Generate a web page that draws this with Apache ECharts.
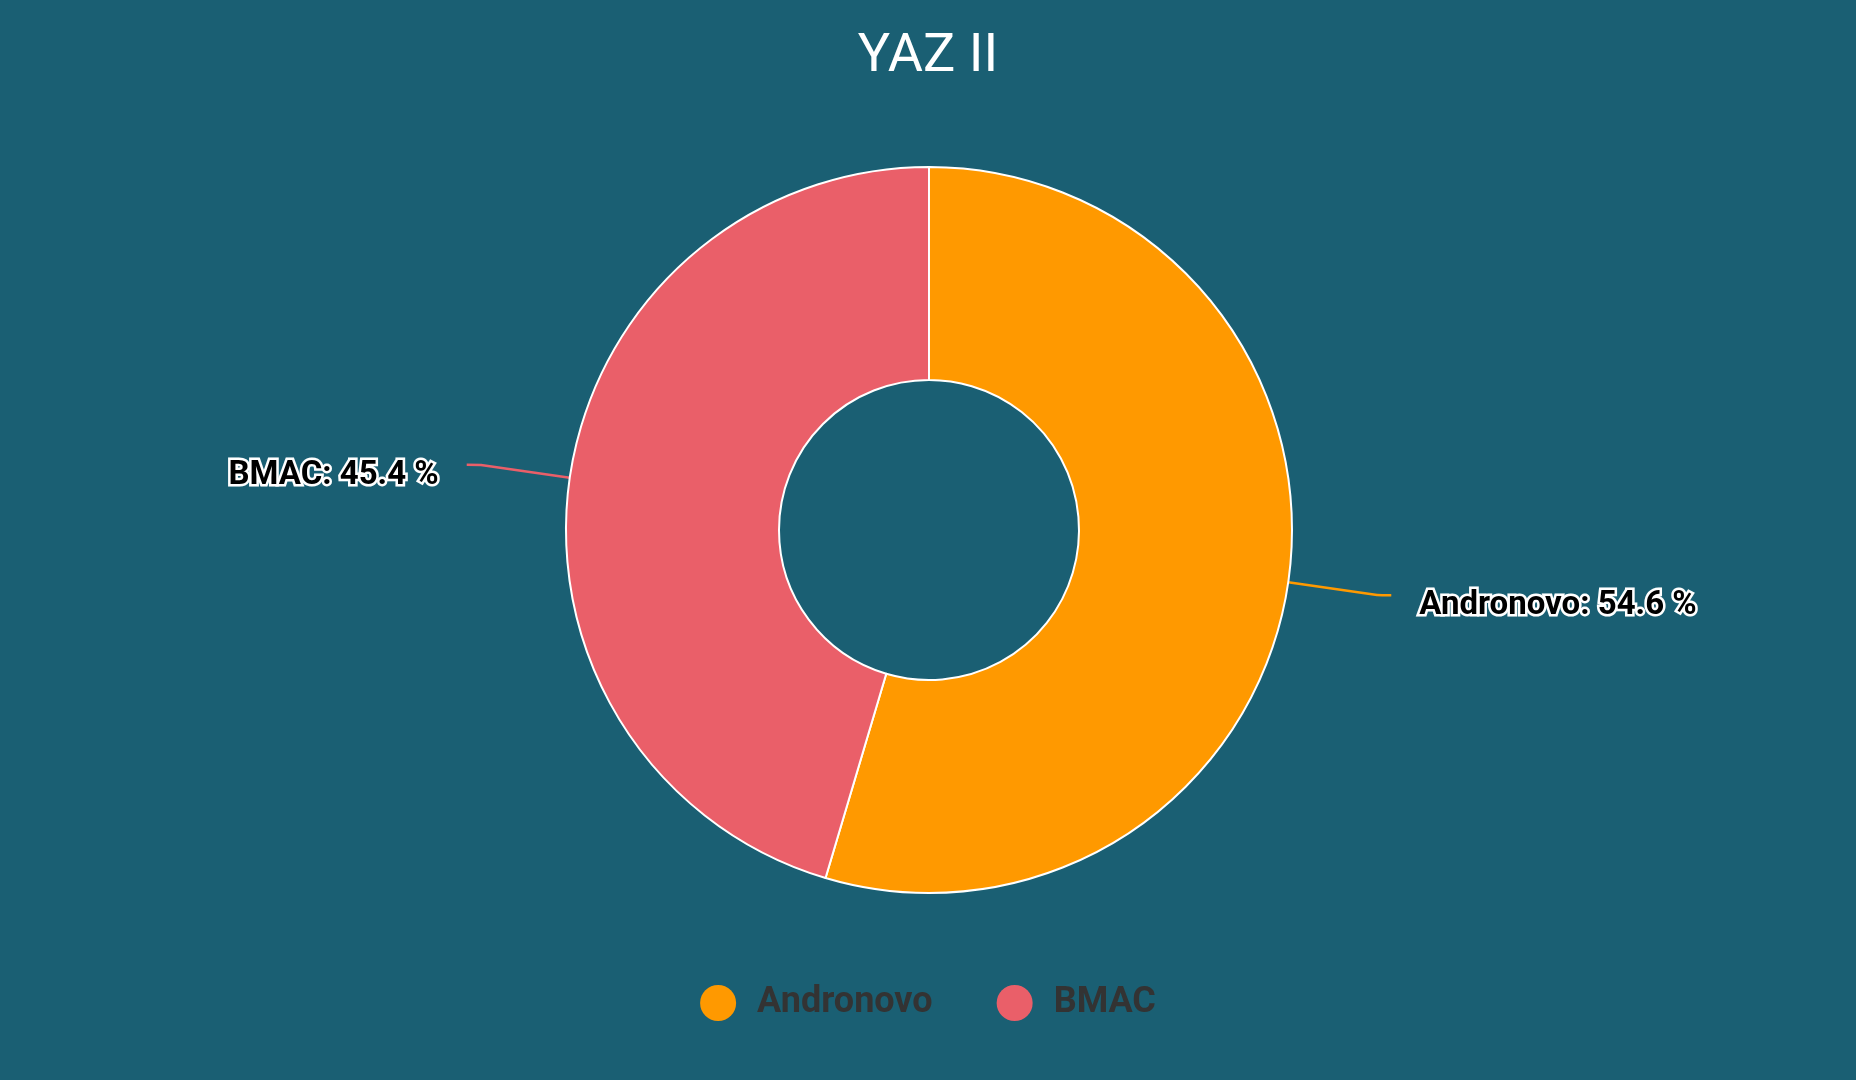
<!DOCTYPE html>
<html>
<head>
<meta charset="utf-8">
<style>
html,body{margin:0;padding:0;background:#1a5f73;}
#chart{width:1856px;height:1080px;}
</style>
<script src="https://cdn.jsdelivr.net/npm/echarts@6/dist/echarts.min.js"></script>
</head>
<body>
<div id="chart"></div>
<script>
const titleText = 'YAZ II';
const categories = ['Andronovo', 'BMAC'];
const values = [54.6, 45.4];
const colors = ['#ff9900', '#ea5f69'];

const chart = echarts.init(document.getElementById('chart'));
chart.setOption({
  backgroundColor: '#1a5f73',
  title: {
    text: titleText,
    left: 'center',
    top: 30,
    padding: 0,
    textStyle: { color: '#ffffff', fontFamily: 'Roboto', fontWeight: 'normal', fontSize: 54 }
  },
  legend: {
    data: categories,
    bottom: 54,
    left: 'center',
    icon: 'circle',
    itemWidth: 36,
    itemHeight: 36,
    itemGap: 64,
    itemStyle: { borderWidth: 0 },
    textStyle: { color: '#333333', fontFamily: 'Roboto', fontWeight: 'bold', fontSize: 36, padding: [0, 0, 0, 16] }
  },
  series: [{
    type: 'pie',
    center: [929, 530],
    radius: [150, 363],
    startAngle: 90,
    clockwise: true,
    avoidLabelOverlap: false,
    itemStyle: { borderColor: '#ffffff', borderWidth: 2 },
    label: {
      show: true,
      formatter: function (p) { return '{t|' + p.name + ': ' + p.percent + ' %}'; },
      distanceToLabelLine: 28,
      rich: {
        t: {
          color: '#000000',
          fontFamily: 'Roboto',
          fontWeight: 'bold',
          fontSize: 33,
          textBorderColor: '#ffffff',
          textBorderWidth: 5,
          padding: [22, 0, 0, 0]
        }
      }
    },
    labelLine: {
      show: true,
      length: 90,
      length2: 14,
      smooth: 0.2,
      lineStyle: { width: 2.5 }
    },
    emphasis: { scale: false },
    data: categories.map((c, i) => ({ name: c, value: values[i], itemStyle: { color: colors[i] } }))
  }]
});
</script>
</body>
</html>
